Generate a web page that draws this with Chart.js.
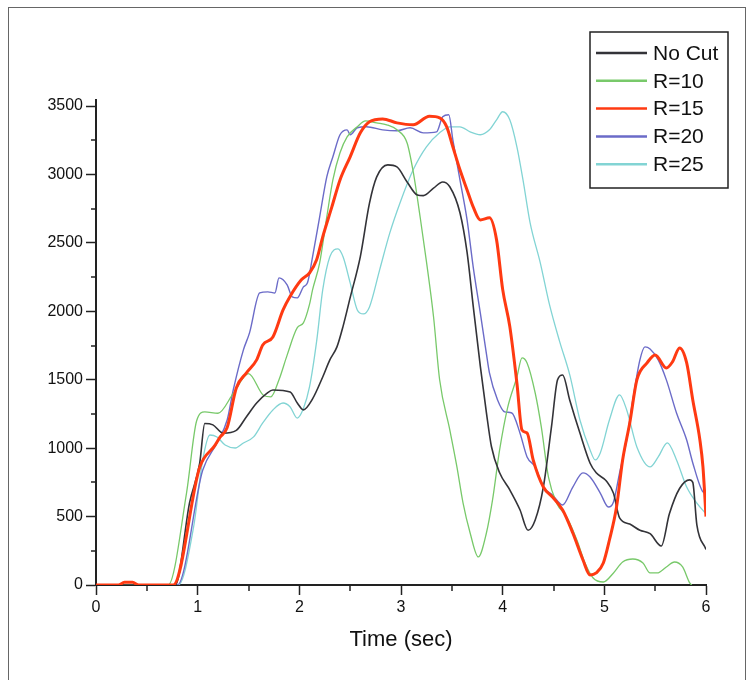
<!DOCTYPE html>
<html>
<head>
<meta charset="utf-8">
<script src="https://cdn.jsdelivr.net/npm/chart.js@4.4.0/dist/chart.umd.min.js"></script>
<style>
  body { margin: 0; background: #fff; }
  #wrap { position: relative; width: 752px; height: 680px; overflow: hidden; }
  #frame { position: absolute; left: 8px; top: 7px; width: 736px; height: 700px; border: 1px solid #666; }
  canvas { position: absolute; left: 0; top: 0; }
</style>
</head>
<body>
<div id="wrap">
  <div id="frame"></div>
  <canvas id="chart" width="752" height="680"></canvas>
</div>
<script>
// series names + colours
let names = ["No Cut", "R=10", "R=15", "R=20", "R=25"];
let colors = ["#333338", "#78c96a", "#ff3a12", "#6b6bc8", "#82d4d4"];
let widths = [1.6, 1.3, 3, 1.4, 1.3];

// axis ticks
let xTicks = [0, 1, 2, 3, 4, 5, 6];
let yTicks = [0, 500, 1000, 1500, 2000, 2500, 3000, 3500];

// No Cut
let noCutT = [0, 0.78, 0.92, 1.02, 1.07, 1.15, 1.25, 1.38, 1.48, 1.58, 1.68, 1.74, 1.91, 1.98, 2.04, 2.13, 2.23, 2.30, 2.37, 2.43, 2.50, 2.60, 2.69, 2.76, 2.87, 2.96, 3.06, 3.16, 3.22, 3.32, 3.41, 3.48, 3.58, 3.65, 3.71, 3.78, 3.84, 3.89, 3.97, 4.07, 4.17, 4.25, 4.32, 4.40, 4.48, 4.54, 4.59, 4.66, 4.76, 4.86, 4.92, 5.02, 5.09, 5.15, 5.25, 5.35, 5.45, 5.56, 5.64, 5.74, 5.84, 5.87, 5.91, 6.0];
let noCutV = [0, 0, 600, 890, 1180, 1170, 1110, 1130, 1230, 1330, 1400, 1425, 1410, 1330, 1280, 1360, 1520, 1645, 1740, 1890, 2100, 2400, 2790, 2980, 3070, 3055, 2945, 2850, 2845, 2900, 2945, 2910, 2720, 2430, 2040, 1600, 1260, 1010, 820, 695, 550, 400, 475, 715, 1155, 1500, 1535, 1350, 1110, 890, 820, 760, 670, 490, 445, 400, 375, 285, 520, 705, 768, 750, 440, 260];

// R=10
let r10T = [0, 0.71, 0.89, 0.99, 1.07, 1.20, 1.35, 1.50, 1.65, 1.72, 1.80, 1.88, 1.98, 2.04, 2.10, 2.13, 2.20, 2.27, 2.33, 2.40, 2.47, 2.57, 2.65, 2.76, 2.86, 2.96, 3.06, 3.12, 3.19, 3.25, 3.32, 3.38, 3.48, 3.55, 3.61, 3.68, 3.76, 3.84, 3.90, 3.97, 4.05, 4.14, 4.19, 4.24, 4.32, 4.38, 4.45, 4.53, 4.63, 4.73, 4.81, 4.89, 4.99, 5.09, 5.18, 5.28, 5.38, 5.45, 5.52, 5.61, 5.69, 5.77, 5.84, 5.86];
let r10V = [0, 0, 670, 1200, 1265, 1255, 1400, 1545, 1385, 1375, 1500, 1680, 1880, 1915, 2050, 2156, 2354, 2690, 2960, 3158, 3275, 3348, 3392, 3377, 3363, 3326, 3230, 3020, 2680, 2365, 1960, 1500, 1133, 863, 600, 380, 205, 380, 620, 987, 1300, 1520, 1660, 1623, 1403, 1155, 790, 600, 497, 329, 161, 51, 22, 88, 168, 190, 161, 88, 88, 132, 168, 132, 15, 0];

// R=15
let r15T = [0, 0.22, 0.28, 0.36, 0.42, 0.76, 1.02, 1.17, 1.22, 1.29, 1.38, 1.48, 1.58, 1.64, 1.74, 1.84, 1.91, 2.02, 2.10, 2.17, 2.23, 2.32, 2.40, 2.50, 2.60, 2.69, 2.82, 2.96, 3.12, 3.28, 3.38, 3.45, 3.51, 3.58, 3.65, 3.71, 3.78, 3.87, 3.94, 4.00, 4.07, 4.14, 4.19, 4.24, 4.30, 4.40, 4.49, 4.59, 4.69, 4.79, 4.86, 4.92, 4.99, 5.05, 5.12, 5.18, 5.25, 5.32, 5.42, 5.50, 5.61, 5.67, 5.74, 5.81, 5.87, 5.94, 5.97, 6.0];
let r15V = [0, 0, 20, 20, 0, 0, 860, 1020, 1080, 1150, 1440, 1550, 1645, 1754, 1813, 2010, 2110, 2230, 2280, 2376, 2544, 2763, 2960, 3129, 3304, 3385, 3406, 3377, 3363, 3425, 3414, 3348, 3202, 3034, 2887, 2763, 2668, 2683, 2522, 2160, 1890, 1476, 1133, 1111, 914, 716, 643, 548, 380, 183, 73, 88, 161, 329, 570, 914, 1184, 1499, 1623, 1681, 1586, 1630, 1732, 1623, 1352, 1060, 863, 500];

// R=20
let r20T = [0, 0.80, 1.05, 1.19, 1.29, 1.35, 1.45, 1.51, 1.61, 1.69, 1.76, 1.80, 1.88, 1.93, 1.98, 2.04, 2.08, 2.13, 2.20, 2.27, 2.33, 2.40, 2.47, 2.50, 2.57, 2.66, 2.82, 2.96, 3.09, 3.22, 3.35, 3.41, 3.47, 3.51, 3.58, 3.65, 3.71, 3.78, 3.84, 3.87, 3.95, 4.02, 4.09, 4.17, 4.24, 4.32, 4.40, 4.49, 4.59, 4.69, 4.79, 4.86, 4.96, 5.04, 5.09, 5.15, 5.22, 5.28, 5.35, 5.40, 5.45, 5.53, 5.61, 5.71, 5.81, 5.87, 5.97, 6.0];
let r20V = [0, 0, 840, 1038, 1206, 1425, 1718, 1842, 2134, 2142, 2134, 2244, 2193, 2105, 2098, 2178, 2208, 2398, 2690, 2982, 3129, 3290, 3326, 3290, 3341, 3348, 3326, 3319, 3341, 3304, 3311, 3421, 3436, 3253, 2960, 2668, 2325, 1988, 1690, 1550, 1352, 1265, 1257, 1111, 936, 863, 716, 658, 585, 716, 819, 789, 672, 570, 607, 819, 1060, 1352, 1645, 1740, 1725, 1645, 1499, 1257, 1060, 892, 680, 670];

// R=25
let r25T = [0, 0.81, 0.96, 1.05, 1.12, 1.19, 1.27, 1.37, 1.45, 1.55, 1.64, 1.74, 1.84, 1.91, 1.98, 2.04, 2.10, 2.17, 2.23, 2.30, 2.38, 2.43, 2.50, 2.57, 2.63, 2.69, 2.79, 2.89, 2.99, 3.12, 3.25, 3.38, 3.48, 3.58, 3.68, 3.78, 3.87, 3.94, 4.00, 4.07, 4.14, 4.20, 4.27, 4.37, 4.46, 4.56, 4.66, 4.76, 4.86, 4.91, 4.96, 5.05, 5.15, 5.22, 5.32, 5.45, 5.53, 5.62, 5.71, 5.81, 5.91, 6.0];
let r25V = [0, 0, 424, 914, 1096, 1082, 1023, 1001, 1038, 1082, 1184, 1279, 1330, 1301, 1220, 1290, 1447, 1780, 2156, 2398, 2456, 2398, 2208, 2010, 1981, 2032, 2303, 2573, 2792, 3034, 3202, 3304, 3348, 3348, 3311, 3290, 3326, 3399, 3458, 3399, 3202, 2960, 2646, 2354, 2050, 1780, 1535, 1206, 987, 914, 965, 1206, 1389, 1279, 1009, 863, 936, 1038, 914, 716, 599, 520];

let seriesT = [noCutT, r10T, r15T, r20T, r25T];
let seriesV = [noCutV, r10V, r15V, r20V, r25V];

function toPoints(ts, vs){
  return ts.map((t, i) => ({ x: t, y: vs[i] }));
}

let datasets = names.map((n, i) => ({
  label: n,
  data: toPoints(seriesT[i], seriesV[i]),
  borderColor: colors[i],
  borderWidth: widths[i],
  pointRadius: 0,
  tension: 0,
  cubicInterpolationMode: "monotone",
  order: i === 2 ? 0 : i + 1
}));

// small minor ticks between the labelled ones
let minorTicks = {
  id: "minorTicks",
  afterDraw(chart){
    let ctx = chart.ctx;
    let xs = chart.scales.x, ys = chart.scales.y;
    ctx.save();
    ctx.strokeStyle = "#222";
    ctx.lineWidth = 1.5;
    for (let i = 0; i < yTicks.length - 1; i++) {
      let py = Math.round(ys.getPixelForValue((yTicks[i] + yTicks[i + 1]) / 2));
      ctx.beginPath();
      ctx.moveTo(xs.left - 5, py);
      ctx.lineTo(xs.left, py);
      ctx.stroke();
    }
    for (let i = 0; i < xTicks.length - 1; i++) {
      let px = Math.round(xs.getPixelForValue((xTicks[i] + xTicks[i + 1]) / 2));
      ctx.beginPath();
      ctx.moveTo(px, ys.bottom);
      ctx.lineTo(px, ys.bottom + 6);
      ctx.stroke();
    }
    ctx.restore();
  }
};

// boxed legend at top right
let boxLegend = {
  id: "boxLegend",
  afterDraw(chart){
    let ctx = chart.ctx;
    let x0 = 590, y0 = 32, w = 138, h = 156;
    ctx.save();
    ctx.fillStyle = "#fff";
    ctx.fillRect(x0, y0, w, h);
    ctx.strokeStyle = "#222";
    ctx.lineWidth = 1.5;
    ctx.strokeRect(x0, y0, w, h);
    ctx.font = "21px 'Liberation Sans', Arial, sans-serif";
    ctx.textBaseline = "middle";
    chart.data.datasets.forEach((ds, i) => {
      let y = 53 + i * 27.8;
      ctx.strokeStyle = ds.borderColor;
      ctx.lineWidth = 2.5;
      ctx.beginPath();
      ctx.moveTo(596, y);
      ctx.lineTo(647, y);
      ctx.stroke();
      ctx.fillStyle = "#111";
      ctx.fillText(ds.label, 653, y + 1);
    });
    ctx.restore();
  }
};

let tickFont = { family: "'Liberation Sans', Arial, sans-serif", size: 16 };

let chart = new Chart(document.getElementById("chart"), {
  type: "line",
  data: { datasets },
  plugins: [minorTicks, boxLegend],
  options: {
    responsive: false,
    animation: false,
    layout: { padding: { left: 0, right: 46, top: 100, bottom: 27 } },
    plugins: { legend: { display: false }, tooltip: { enabled: false } },
    scales: {
      x: {
        type: "linear",
        min: 0,
        max: 6,
        afterFit(s){ s.height = 68; },
        ticks: { stepSize: 1, color: "#111", font: tickFont, padding: 3, maxRotation: 0,
          callback: v => String(v) },
        afterBuildTicks(s){ s.ticks = xTicks.map(v => ({ value: v })); },
        grid: { drawOnChartArea: false, drawTicks: true, tickLength: 10, tickColor: "#222", tickWidth: 1.5 },
        border: { color: "#222", width: 2 },
        title: { display: true, text: "Time (sec)", color: "#111", padding: 0,
          font: { family: "'Liberation Sans', Arial, sans-serif", size: 22 } }
      },
      y: {
        min: 0,
        max: 3544,
        afterFit(s){ s.width = 96; },
        ticks: { stepSize: 500, includeBounds: false, color: "#111", font: tickFont, padding: 3,
          callback: v => String(v) },
        afterBuildTicks(s){ s.ticks = yTicks.map(v => ({ value: v })); },
        grid: { drawOnChartArea: false, drawTicks: true, tickLength: 10, tickColor: "#222", tickWidth: 1.5 },
        border: { color: "#222", width: 2 }
      }
    }
  }
});
</script>
</body>
</html>
